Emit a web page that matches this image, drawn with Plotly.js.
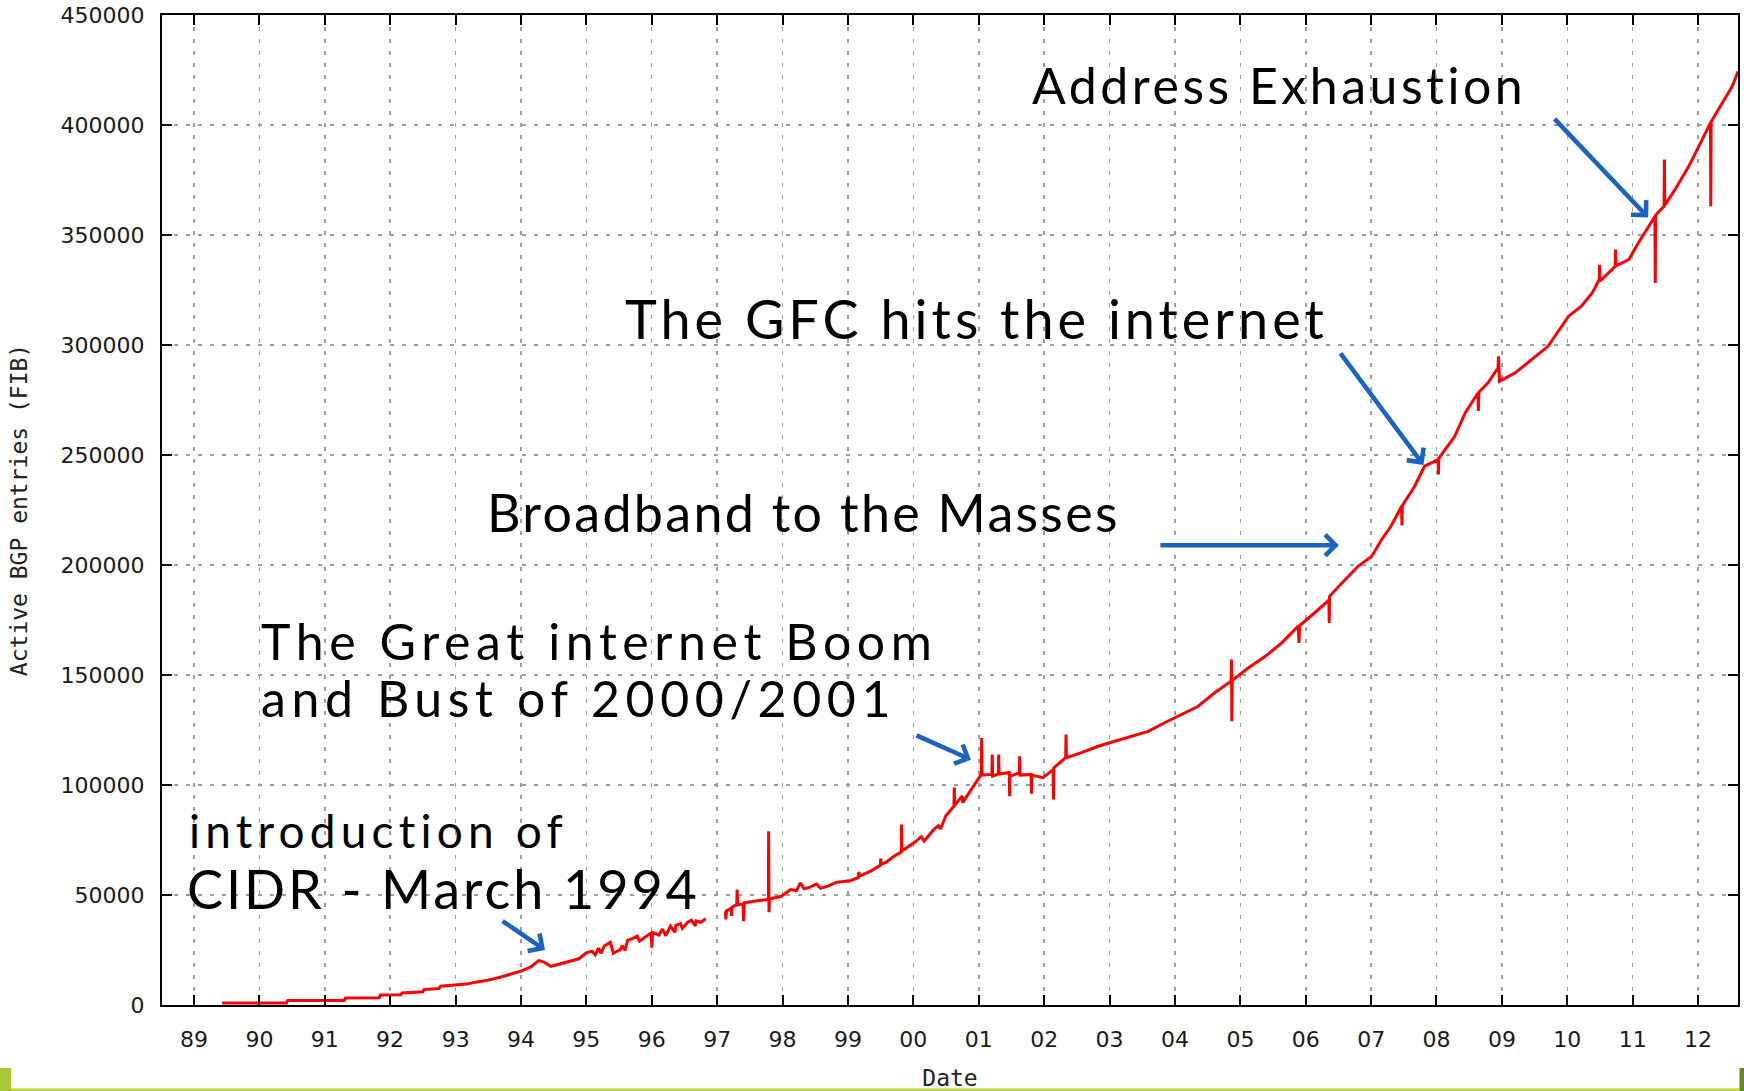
<!DOCTYPE html>
<html>
<head>
<meta charset="utf-8">
<script src="https://cdn.plot.ly/plotly-3.0.1.min.js"></script>
<style>
  html, body { margin: 0; padding: 0; background: #ffffff; }
  #chart { width: 1744px; height: 1091px; }
</style>
</head>
<body>
<div id="chart"></div>
<script>
// ---- Data ----
const dates = [
  '1989-06-07','1990-06-01','1990-06-08','1991-04-20','1991-04-27','1991-11-01','1991-11-08',
  '1992-03-01','1992-03-08','1992-07-01','1992-07-08','1992-10-01','1992-10-08','1993-01-01',
  '1993-03-01','1993-05-01','1993-07-01','1993-09-01','1993-10-15','1993-12-01','1994-01-01',
  '1994-03-01','1994-04-10','1994-05-10','1994-06-15','1994-08-01','1994-10-01','1994-11-20',
  '1995-01-01','1995-02-01','1995-02-20','1995-03-10','1995-03-25','1995-04-10','1995-05-01',
  '1995-05-15','1995-06-01','1995-06-10','1995-07-10','1995-07-20','1995-08-05','1995-08-20',
  '1995-09-10','1995-10-12','1995-10-25','1995-11-20','1995-12-28','1996-01-02','1996-01-06',
  '1996-02-10','1996-03-01','1996-03-20','1996-04-15','1996-05-10','1996-05-15','1996-06-10',
  '1996-06-20','1996-07-20','1996-08-10','1996-09-01','1996-09-05','1996-10-01','1996-10-20',
  '1996-10-28','1996-12-15',
  '1997-02-15','1997-02-18','1997-02-22','1997-03-20','1997-03-22','1997-03-25','1997-04-20',
  '1997-04-22','1997-04-25','1997-05-25','1997-05-28','1997-06-01','1997-07-25','1997-10-14',
  '1997-10-15','1997-10-17','1997-10-20','1997-12-25','1998-02-15','1998-03-20','1998-04-10',
  '1998-05-01','1998-06-01','1998-07-10','1998-08-01','1998-09-10','1998-11-01','1999-01-15',
  '1999-03-01','1999-03-03','1999-03-05','1999-05-10','1999-07-01','1999-07-03','1999-07-05',
  '1999-08-01','1999-09-15','1999-10-26','1999-10-27','1999-10-29','2000-01-05','2000-02-15',
  '2000-03-01','2000-04-25','2000-05-20','2000-06-01','2000-07-01','2000-08-15','2000-08-17',
  '2000-08-19','2000-10-01','2000-10-03','2000-11-20','2000-12-25','2001-01-15','2001-01-17',
  '2001-01-19','2001-03-15','2001-03-17','2001-03-19','2001-04-20','2001-04-22','2001-04-24',
  '2001-06-20','2001-06-22','2001-06-24','2001-08-15','2001-08-17','2001-08-19','2001-10-20',
  '2001-10-22','2001-10-24','2001-12-25','2002-02-20','2002-02-22','2002-02-24','2002-05-01',
  '2002-05-03','2002-05-05','2002-07-25','2002-10-30','2003-01-30','2003-05-05','2003-08-05',
  '2003-11-05','2004-02-06','2004-05-10','2004-08-10','2004-11-10','2004-11-12','2004-11-14',
  '2004-11-16','2005-02-15','2005-05-20','2005-08-20','2005-11-20','2005-11-24','2005-11-28',
  '2006-02-20','2006-05-10','2006-05-12','2006-05-14','2006-07-01','2006-10-20','2007-01-05',
  '2007-03-01','2007-04-22','2007-06-20','2007-06-22','2007-06-24','2007-09-01','2007-10-26',
  '2008-01-10','2008-01-12','2008-01-14','2008-03-05','2008-04-12','2008-06-10','2008-08-20',
  '2008-08-22','2008-08-24','2008-10-15','2008-12-10','2008-12-12','2008-12-18','2009-03-15',
  '2009-06-15','2009-09-15','2010-01-08','2010-03-20','2010-05-20','2010-06-28','2010-06-30',
  '2010-07-02','2010-09-25','2010-09-27','2010-09-29','2010-12-10','2011-02-01','2011-04-01',
  '2011-05-05','2011-05-07','2011-05-09','2011-06-25','2011-06-27','2011-06-29','2011-08-25',
  '2011-11-10','2012-01-05','2012-03-10','2012-03-12','2012-03-14','2012-05-15','2012-07-10',
  '2012-08-12'
];
const entries = [
  900,900,2100,2100,3200,3300,4500,
  4700,5500,6000,7000,7500,8500,8900,
  9500,10500,11300,12500,13500,14500,15400,
  17500,20200,19500,17600,18500,19900,21000,
  23700,24500,22800,25800,23500,26700,27800,
  28500,23500,24000,25200,27000,24800,29500,
  30000,31300,29000,30500,32800,26100,33000,
  31800,34500,31500,35800,33000,36200,37000,
  34800,37600,38500,36000,38200,37600,38900,
  39200,null,
  42600,38900,42800,44000,40500,44500,45700,
  52500,45500,46000,38100,46500,47200,48000,
  79000,42200,48200,49400,52500,52000,55500,
  52800,53500,55000,53000,54000,55800,56500,
  58000,60500,58500,61000,63500,66500,64000,
  64800,67600,69500,82000,70000,73700,76500,
  74500,79800,81500,80000,86000,90400,98800,
  90800,95000,92000,98000,102000,104800,121400,
  104500,104800,113900,104000,105000,113900,105000,
  105700,94900,104000,105500,113100,104500,104800,
  96000,104500,103300,107000,93400,107800,112400,
  122900,112400,114600,117600,119900,122200,124400,
  128300,132000,135800,141900,147200,157000,129000,
  147500,153300,158500,164600,172200,164600,172500,
  178300,184000,173700,185800,190000,199400,204000,
  211600,217600,226700,218000,227000,235800,244900,
  247900,241100,248500,254000,258500,269200,278200,
  270000,278500,282800,289600,294900,283500,287300,
  293400,299400,313100,317600,323700,329700,336500,
  329000,335800,343400,336000,338800,346400,354000,
  358500,328200,359000,363100,384300,363500,370600,
  381200,390300,401000,363100,401500,410000,417600,
  424400
];
const yTicks = [0,50000,100000,150000,200000,250000,300000,350000,400000,450000];
const yTickLabels = ['0','50000','100000','150000','200000','250000','300000','350000','400000','450000'];
const xTitle = 'Date';
const yTitle = 'Active BGP entries (FIB)';
const notes = [
  'Address Exhaustion',
  'The GFC hits the internet',
  'Broadband to the Masses',
  'The Great internet Boom',
  'and Bust of 2000/2001',
  'introduction of',
  'CIDR - March 1994'
];
// arrow head targets (date, entries)
const arrowDates = ['2011-03-28','2007-10-20','2006-07-05','2000-11-18','1994-05-15'];
const arrowValues = [358000,245500,209000,111500,25000];

// ---- Layout geometry ----
const W = 1744, H = 1091;
const M = {l: 162, r: 6, t: 15, b: 86};
const PW = W - M.l - M.r, PH = H - M.t - M.b;
const px = x => (x - M.l) / PW;
const py = y => (H - M.b - y) / PH;

const noteStyle = [
  {x: 1030, y: 85,  size: 50, ls: 3.5},
  {x: 623,  y: 318, size: 54, ls: 4.0},
  {x: 485,  y: 512, size: 52, ls: 2.3},
  {x: 259,  y: 641, size: 50, ls: 5.6},
  {x: 259,  y: 698, size: 50, ls: 5.6},
  {x: 187,  y: 830, size: 46, ls: 5.2},
  {x: 185,  y: 888, size: 54, ls: 2.9}
];
const arrowOffsets = [[-95,-100],[-84,-113],[-180,0],[-56,-25],[-44,-30]];

const annotations = [];
notes.forEach((t, i) => {
  const s = noteStyle[i];
  annotations.push({
    text: t, xref: 'paper', yref: 'paper', x: px(s.x), y: py(s.y),
    xanchor: 'left', yanchor: 'middle', align: 'left', showarrow: false,
    font: {family: 'Lato, "Open Sans", sans-serif', size: s.size, color: '#000000'}
  });
});
arrowDates.forEach((d, i) => {
  annotations.push({
    text: '', x: d, y: arrowValues[i], xref: 'x', yref: 'y',
    showarrow: true, ax: arrowOffsets[i][0], ay: arrowOffsets[i][1],
    arrowhead: 4, arrowsize: 0.9, arrowwidth: 4.5, arrowcolor: '#1863c4', standoff: 0
  });
});

// letter spacing for the handwritten notes
const css = noteStyle.map((s, i) =>
  `.annotation[data-index="${i}"] .annotation-text { letter-spacing: ${s.ls}px; }`).join('\n');
const st = document.createElement('style'); st.textContent = css; document.head.appendChild(st);

const shapes = [
  {type: 'rect', xref: 'paper', yref: 'paper', x0: px(0), x1: px(W), y0: py(1091), y1: py(1088.5),
   fillcolor: '#bcd442', line: {width: 0}, layer: 'above'},
  {type: 'rect', xref: 'paper', yref: 'paper', x0: px(0), x1: px(11), y0: py(1091), y1: py(1068),
   fillcolor: '#a9c83a', line: {width: 0}, layer: 'above'},
  {type: 'rect', xref: 'paper', yref: 'paper', x0: px(1739.5), x1: px(W), y0: py(1091), y1: py(1068),
   fillcolor: '#5f8c1c', line: {width: 0}, layer: 'above'}
];

const trace = {
  x: dates, y: entries, type: 'scatter', mode: 'lines',
  line: {color: '#ff0000', width: 3}, connectgaps: false, hoverinfo: 'skip'
};

const tickFont = {family: '"DejaVu Sans", sans-serif', size: 22, color: '#1a1a1a'};
const titleFont = {family: '"DejaVu Sans Mono", monospace', size: 23, color: '#222222'};

const layout = {
  width: W, height: H, margin: M,
  paper_bgcolor: '#ffffff', plot_bgcolor: '#ffffff',
  showlegend: false,
  xaxis: {
    type: 'date', range: ['1988-07-06', '2012-08-11'],
    tick0: '1989-01-01', dtick: 'M12', tickformat: '%y',
    ticks: 'inside', ticklen: 10, tickwidth: 2, tickcolor: '#000',
    showline: true, linecolor: '#000', linewidth: 2, mirror: 'allticks',
    showgrid: true, gridcolor: '#9e9e9e', gridwidth: 1.5, griddash: '4px,8px',
    zeroline: false, tickfont: tickFont, ticklabelstandoff: 14,
    title: {text: xTitle, font: titleFont, standoff: 19}
  },
  yaxis: {
    range: [0, 450000], tickmode: 'array', tickvals: yTicks, ticktext: yTickLabels,
    ticks: 'inside', ticklen: 10, tickwidth: 2, tickcolor: '#000',
    showline: true, linecolor: '#000', linewidth: 2, mirror: 'allticks',
    showgrid: true, gridcolor: '#9e9e9e', gridwidth: 1.5, griddash: '4px,8px',
    zeroline: false, tickfont: tickFont, ticklabelstandoff: 11,
    title: {text: yTitle, font: titleFont, standoff: 27}
  },
  annotations: annotations,
  shapes: shapes
};

Plotly.newPlot('chart', [trace], layout, {staticPlot: true, displayModeBar: false});
</script>
</body>
</html>
